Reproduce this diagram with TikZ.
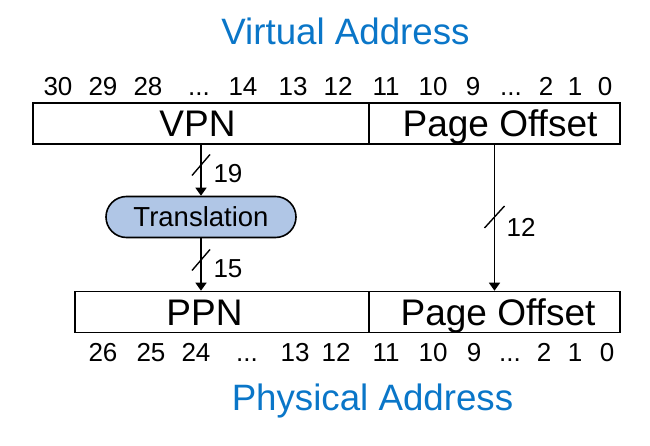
\documentclass[tikz,border=0pt]{standalone}
\usepackage{fontspec}
\setmainfont{Liberation Sans}
\usetikzlibrary{arrows.meta,shapes.misc}
\definecolor{titleblue}{RGB}{10,118,200}
\definecolor{transfill}{RGB}{176,198,230}
\newcommand\mydots{...}
\tikzset{
  field/.style={draw, line width=1.6pt, minimum height=41pt, inner sep=0pt, text height=26.5pt, text depth=0pt, font=\fontsize{37}{40}\selectfont},
  bitnum/.style={font=\fontsize{26}{30}\selectfont, inner sep=0pt, anchor=base},
  title/.style={font=\fontsize{36.7}{40}\selectfont, text=titleblue, inner sep=0pt, anchor=base},
  arr/.style={line width=1.6pt, -{Triangle[width=11pt,length=8pt]}},
  slash/.style={line width=1.4pt},
  buslabel/.style={font=\fontsize{26}{30}\selectfont, inner sep=0pt}
}
\begin{document}
\begin{tikzpicture}[x=1pt,y=-1pt]
\useasboundingbox (0,0) rectangle (650,446);
% titles
\node[title] (vt) at (345.5,45) {Virtual Address};
\node[title] (pt) at (372.5,410) {Physical Address};
% top boxes
\node[field, minimum width=336pt] (vpn) at (201,123.5) {\hspace*{-7pt}VPN};
\node[field, minimum width=251pt] (vpo) at (494.5,123.5) {\hspace*{11pt}Page Offset};
% bottom boxes
\node[field, minimum width=294pt] (ppn) at (222,312) {\hspace*{-35pt}PPN};
\node[field, minimum width=251pt] (ppo) at (494.5,312) {\hspace*{7pt}Page Offset};
% translation
\node[draw, line width=1.6pt, fill=transfill, rounded rectangle, minimum width=190pt, minimum height=41pt, inner sep=0pt, font=\fontsize{27.5}{30}\selectfont] (tr) at (201,217) {Translation};
% top bit numbers
\foreach \t/\x in {30/58,29/103,28/148,\mydots/199,14/243,13/293,12/338,11/386,10/433,9/473,\mydots/511,2/546,1/575,0/605}
  \node[bitnum] at (\x,96) {\t};
% bottom bit numbers
\foreach \t/\x in {26/103,25/151,24/196,\mydots/247,13/295,12/336,11/386,10/433,9/474,\mydots/510,2/544,1/575,0/607}
  \node[bitnum] at (\x,361) {\t};
% arrows
\coordinate (a1) at (tr.north |- vpn.south);
\draw[arr] (a1) -- (tr.north);
\coordinate (a2) at (tr.south |- ppn.north);
\draw[arr] (tr.south) -- (a2);
\coordinate (a3) at (vpo.south);
\coordinate (a4) at (vpo.south |- ppo.north);
\draw[arr] (a3) -- (a4);
% slashes
\coordinate (s1) at (201,165);
\draw[slash] ([shift={(-9,10.5)}]s1) -- ([shift={(9,-10.5)}]s1);
\node[buslabel] (l1) at (228,174) {19};
\coordinate (s2) at (201,260);
\draw[slash] ([shift={(-9,10.5)}]s2) -- ([shift={(9,-10.5)}]s2);
\node[buslabel] (l2) at (228,269) {15};
\coordinate (s3) at (494.5,217);
\draw[slash] ([shift={(-10,11)}]s3) -- ([shift={(10,-11)}]s3);
\node[buslabel] (l3) at (521,227) {12};
\end{tikzpicture}
\end{document}
